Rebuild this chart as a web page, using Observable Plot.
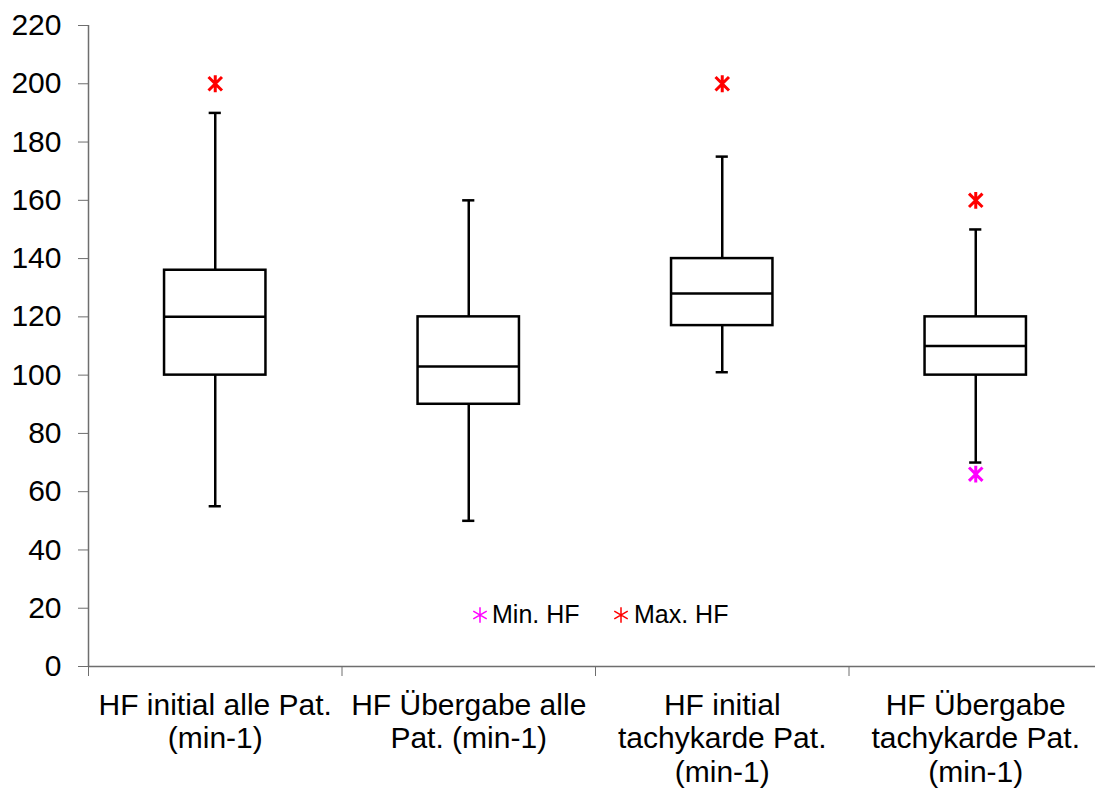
<!DOCTYPE html>
<html>
<head>
<meta charset="utf-8">
<script src="https://cdn.jsdelivr.net/npm/d3@7"></script>
<script src="https://cdn.jsdelivr.net/npm/@observablehq/plot@0.6"></script>
<style>
  body { margin: 0; background: #fff; font-family: "Liberation Sans", Arial, sans-serif; }
  #wrap { position: relative; width: 1095px; height: 788px; overflow: hidden; }
  #legend { position: absolute; left: 0; top: 0; pointer-events: none; }
</style>
</head>
<body>
<div id="wrap"></div>
<script>
// ---- data ----
const categories = [
  "HF initial alle Pat.\n(min-1)",
  "HF Übergabe alle\nPat. (min-1)",
  "HF initial\ntachykarde Pat.\n(min-1)",
  "HF Übergabe\ntachykarde Pat.\n(min-1)"
];
const whiskerHigh = [190, 160, 175, 150];
const q3 = [136, 120, 140, 120];
const median = [120, 103, 128, 110];
const q1 = [100, 90, 117, 100];
const whiskerLow = [55, 50, 101, 70];
const maxHF = [200, null, 200, 160];
const minHF = [null, null, null, 66];
const yTicks = [0, 20, 40, 60, 80, 100, 120, 140, 160, 180, 200, 220];
const legendLabels = ["Min. HF", "Max. HF"];

const rows = categories.map((c, i) => ({
  c, i, hi: whiskerHigh[i], q3: q3[i], med: median[i], q1: q1[i], lo: whiskerLow[i],
  max: maxHF[i], min: minHF[i]
}));

const boxHalf = 0.2;     // box width = 40% of category
const capHalf = 0.024;   // whisker cap half width
const axisColor = "#6e6e6e";
const ctr = d => d.i + 0.5;

// Excel-like star marker: X plus vertical bar
const star = {
  draw(ctx, size) {
    const r = Math.sqrt(size) * 0.5;
    const d = r * 0.8;
    ctx.moveTo(-d, -d); ctx.lineTo(d, d);
    ctx.moveTo(-d, d); ctx.lineTo(d, -d);
    ctx.moveTo(0, -r); ctx.lineTo(0, r);
  }
};

const chart = Plot.plot({
  width: 1095,
  height: 788,
  marginTop: 25,
  marginBottom: 122,
  marginLeft: 88,
  marginRight: 0,
  style: { fontFamily: "Liberation Sans, Arial, sans-serif", fontSize: "30px", background: "white", color: "black", overflow: "visible" },
  x: { type: "linear", domain: [0, categories.length], range: [88, 1102] },
  y: { domain: [yTicks[0], yTicks[yTicks.length - 1]] },
  marks: [
    Plot.axisY({ ticks: yTicks, tickSize: 10, tickPadding: 17, stroke: axisColor, fill: "black", fontSize: 30, label: null }),
    Plot.axisX({ ticks: d3.range(categories.length + 1), tickSize: 10, tickFormat: () => "", stroke: axisColor, label: null }),
    Plot.ruleX([0], { y1: yTicks[0], y2: yTicks[yTicks.length - 1], stroke: axisColor, strokeWidth: 1.5 }),
    Plot.ruleY([0], { x1: 0, x2: categories.length, stroke: axisColor, strokeWidth: 1.5 }),
    // whiskers
    Plot.ruleX(rows, { x: ctr, y1: "lo", y2: "q1", stroke: "black", strokeWidth: 2.5 }),
    Plot.ruleX(rows, { x: ctr, y1: "q3", y2: "hi", stroke: "black", strokeWidth: 2.5 }),
    Plot.ruleY(rows, { y: "hi", x1: d => ctr(d) - capHalf, x2: d => ctr(d) + capHalf, stroke: "black", strokeWidth: 2.5 }),
    Plot.ruleY(rows, { y: "lo", x1: d => ctr(d) - capHalf, x2: d => ctr(d) + capHalf, stroke: "black", strokeWidth: 2.5 }),
    // boxes
    Plot.rect(rows, { x1: d => ctr(d) - boxHalf, x2: d => ctr(d) + boxHalf, y1: "q1", y2: "q3", fill: "white", stroke: "black", strokeWidth: 2.5 }),
    Plot.ruleY(rows, { y: "med", x1: d => ctr(d) - boxHalf, x2: d => ctr(d) + boxHalf, stroke: "black", strokeWidth: 2.5 }),
    // extremes
    Plot.dot(rows.filter(d => d.max != null), { x: ctr, y: "max", symbol: star, r: 9.5, stroke: "#ff0000", strokeWidth: 3 }),
    Plot.dot(rows.filter(d => d.min != null), { x: ctr, y: "min", symbol: star, r: 9.5, stroke: "#ff00ff", strokeWidth: 3 }),
    // category labels
    Plot.text(rows, { x: ctr, y: () => yTicks[0], text: "c", lineAnchor: "top", dy: 24, fontSize: 30, lineHeight: 1.13, fill: "black" })
  ]
});

const wrap = document.getElementById("wrap");
wrap.appendChild(chart);

// legend overlay
const ast = d3.symbol(d3.symbolAsterisk, 170)();
const legend = d3.select(wrap).append("svg")
  .attr("id", "legend").attr("width", 1095).attr("height", 788)
  .style("font-family", "Liberation Sans, Arial, sans-serif");
const items = [
  { label: legendLabels[0], color: "#ff00ff", sx: 480, tx: 492 },
  { label: legendLabels[1], color: "#ff0000", sx: 621, tx: 634 }
];
items.forEach(it => {
  legend.append("path").attr("d", ast).attr("transform", `translate(${it.sx},615)`)
    .attr("fill", "none").attr("stroke", it.color).attr("stroke-width", 1.5);
  legend.append("text").attr("x", it.tx).attr("y", 623).attr("font-size", 25).attr("fill", "black").text(it.label);
});
</script>
</body>
</html>
